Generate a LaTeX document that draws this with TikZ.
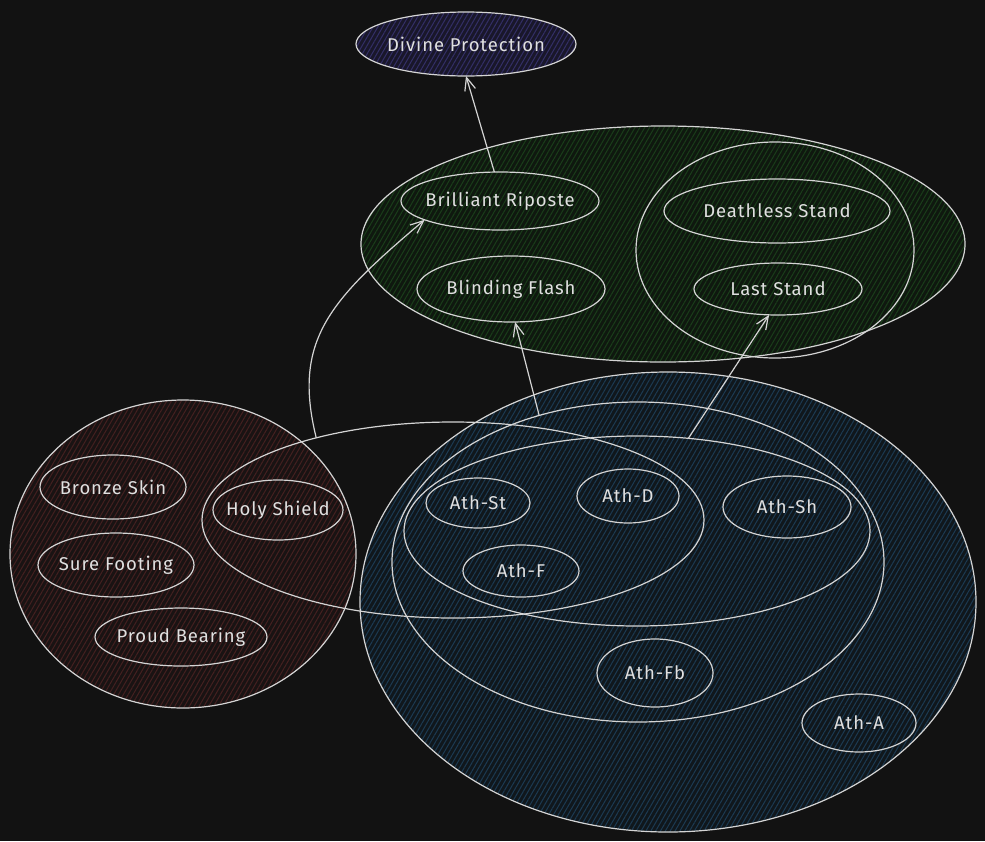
\documentclass[tikz,border=0pt]{standalone}
\usepackage{fontspec}
\setmainfont{Fira Sans}[LetterSpace=5]
\usetikzlibrary{shapes.geometric,arrows.meta,patterns.meta}
\definecolor{bg}{HTML}{121212}
\definecolor{ink}{HTML}{D4D4D4}
\definecolor{txt}{HTML}{E0E0E0}
\definecolor{purpleF}{HTML}{19172A}
\definecolor{purpleH}{HTML}{332F66}
\definecolor{greenF}{HTML}{0F180F}
\definecolor{greenH}{HTML}{1A3D1A}
\definecolor{redF}{HTML}{191313}
\definecolor{redH}{HTML}{442020}
\definecolor{blueF}{HTML}{10171C}
\definecolor{blueH}{HTML}{1C3A52}
\begin{document}
\begin{tikzpicture}[x=1pt,y=-1pt,
  shp/.style={ellipse, draw=ink, line width=1.2pt, inner sep=0pt, outer sep=0pt},
  txtlab/.style={text=txt, font=\fontsize{18.5}{22}\selectfont, inner sep=0pt},
  hatch/.style 2 args={preaction={fill=#1}, pattern={Lines[angle=60,distance=4.2pt,line width=1.0pt]}, pattern color=#2},
  arr/.style={draw=ink, line width=1.2pt, -{Straight Barb[length=13pt,width=11pt,line width=1.2pt]}}
]
\useasboundingbox (0,0) rectangle (985,841);
\fill[bg] (0,0) rectangle (985,841);

% filled groups
\node[shp, hatch={blueF}{blueH}, minimum width=616pt, minimum height=460pt] (blue) at (668,602) {};
\node[shp, hatch={redF}{redH}, minimum width=346pt, minimum height=308pt] (red) at (183,554) {};
\node[shp, hatch={greenF}{greenH}, minimum width=604pt, minimum height=236pt] (green) at (663,244) {};
\node[shp, hatch={purpleF}{purpleH}, minimum width=220pt, minimum height=64pt,
  label={[txtlab]center:Divine Protection}] (dp) at (466,44) {};

% unfilled groups
\node[shp, minimum width=278pt, minimum height=216pt] (stand) at (775,250) {};
\node[shp, minimum width=492pt, minimum height=320pt] (med) at (638,562) {};
\node[shp, minimum width=466pt, minimum height=190pt] (thr) at (637,531) {};
\node[shp, minimum width=502pt, minimum height=196pt] (hg) at (453,520) {};

% leaf nodes
\node[shp, minimum width=198pt, minimum height=58pt, label={[txtlab]center:Brilliant Riposte}] (br) at (500,201) {};
\node[shp, minimum width=188pt, minimum height=66pt, label={[txtlab]center:Blinding Flash}] (bf) at (511,289) {};
\node[shp, minimum width=226pt, minimum height=64pt, label={[txtlab]center:Deathless Stand}] (ds) at (777,211) {};
\node[shp, minimum width=168pt, minimum height=52pt, label={[txtlab]center:Last Stand}] (ls) at (778,289) {};

\node[shp, minimum width=146pt, minimum height=64pt, label={[txtlab]center:Bronze Skin}] (bs) at (113,487) {};
\node[shp, minimum width=156pt, minimum height=64pt, label={[txtlab]center:Sure Footing}] (sf) at (116,565) {};
\node[shp, minimum width=172pt, minimum height=58pt, label={[txtlab]center:Proud Bearing}] (pb) at (181,637) {};
\node[shp, minimum width=130pt, minimum height=60pt, label={[txtlab]center:Holy Shield}] (hs) at (278,510) {};

\node[shp, minimum width=104pt, minimum height=50pt, label={[txtlab]center:Ath-St}] (ast) at (478,503) {};
\node[shp, minimum width=102pt, minimum height=54pt, label={[txtlab]center:Ath-D}] (ad) at (628,496) {};
\node[shp, minimum width=128pt, minimum height=62pt, label={[txtlab]center:Ath-Sh}] (ash) at (787,507) {};
\node[shp, minimum width=116pt, minimum height=52pt, label={[txtlab]center:Ath-F}] (af) at (521,571) {};
\node[shp, minimum width=116pt, minimum height=68pt, label={[txtlab]center:Ath-Fb}] (afb) at (655,673) {};
\node[shp, minimum width=114pt, minimum height=58pt, label={[txtlab]center:Ath-A}] (aa) at (859,723) {};

% connectors
\draw[arr] (br.101.7) -- (dp.south);
\draw[arr] (hg.149) .. controls (292,340) and (330,300) .. (br.194);
\draw[arr] (med.124.5) -- (bf.277);
\draw[arr] (thr.61.4) -- (ls.251.6);
\end{tikzpicture}
\end{document}
